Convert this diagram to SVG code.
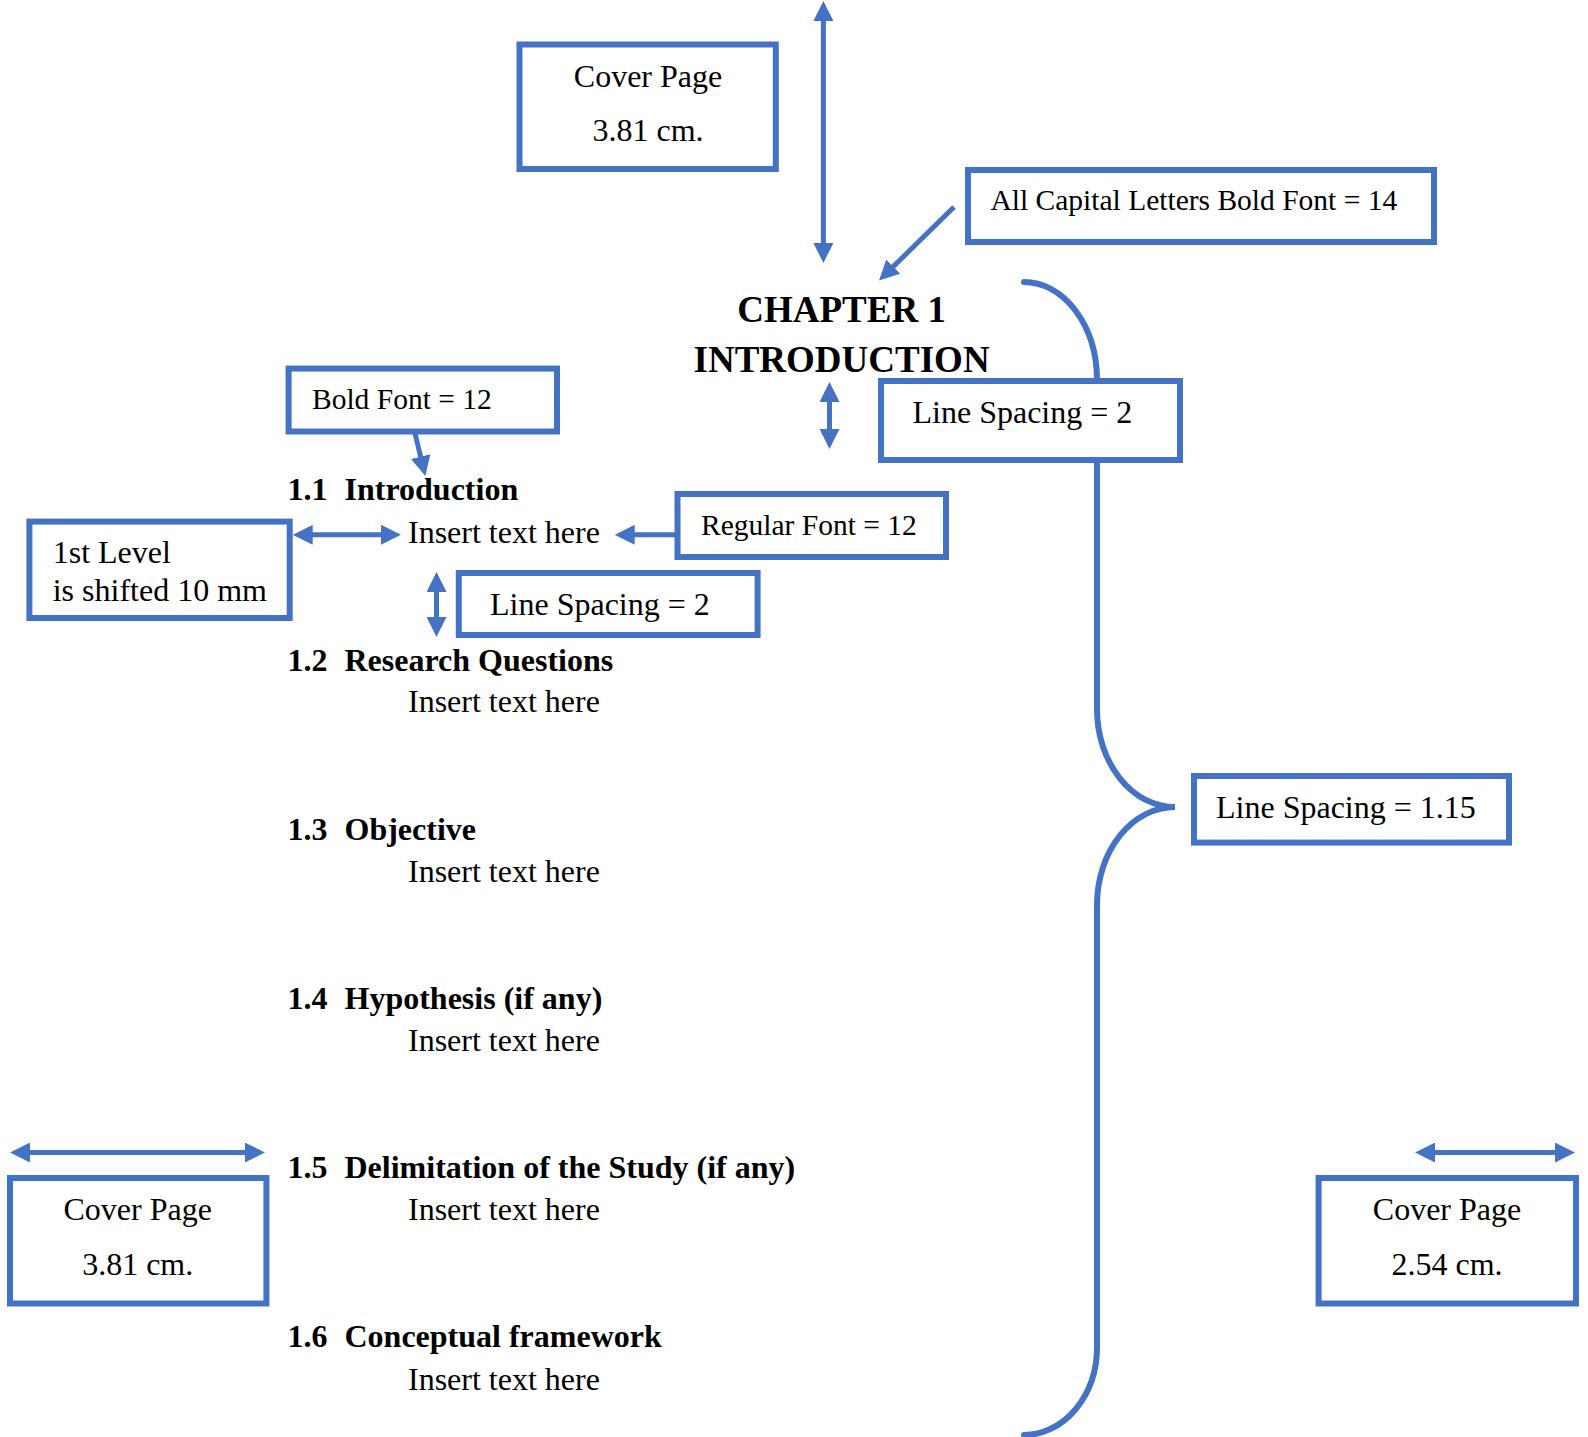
<svg xmlns="http://www.w3.org/2000/svg" width="1588" height="1437" viewBox="0 0 1588 1437">
<style>
.box{fill:#fff;stroke:#4472C4;stroke-width:6}
.ln{fill:none;stroke:#4472C4;stroke-width:5}
.br{fill:none;stroke:#4472C4;stroke-width:6;stroke-linecap:round}
text{font-family:"Liberation Serif","Times New Roman",serif;fill:#000}
.t32{font-size:32px}
.t29{font-size:29.5px}
.h{font-size:32px;font-weight:bold}
.ch{font-size:37px;font-weight:bold}
.c{text-anchor:middle}
</style>
<defs>
<marker id="ah" viewBox="0 0 10 10" refX="1" refY="5" markerWidth="4" markerHeight="4" markerUnits="strokeWidth" orient="auto-start-reverse">
<path d="M0,0 L10,5 L0,10 z" fill="#4472C4"/>
</marker>
</defs>
<rect width="1588" height="1437" fill="#fff"/>
<g id="connectors">
<line class="ln" x1="823.4" y1="19" x2="823.4" y2="245" marker-start="url(#ah)" marker-end="url(#ah)"/>
<line class="ln" x1="954" y1="207" x2="891.9" y2="267.9" marker-end="url(#ah)"/>
<line class="ln" x1="829.5" y1="400" x2="829.5" y2="431" marker-start="url(#ah)" marker-end="url(#ah)"/>
<line class="ln" x1="415" y1="433.5" x2="421.1" y2="458.5" marker-end="url(#ah)"/>
<line class="ln" x1="310.7" y1="534.8" x2="383" y2="534.8" marker-start="url(#ah)" marker-end="url(#ah)"/>
<line class="ln" x1="676" y1="534.8" x2="632.7" y2="534.8" marker-end="url(#ah)"/>
<line class="ln" x1="436.5" y1="590" x2="436.5" y2="619" marker-start="url(#ah)" marker-end="url(#ah)"/>
<line class="ln" x1="28" y1="1152.6" x2="247" y2="1152.6" marker-start="url(#ah)" marker-end="url(#ah)"/>
<line class="ln" x1="1433" y1="1152.6" x2="1557" y2="1152.6" marker-start="url(#ah)" marker-end="url(#ah)"/>
<path id="brace" class="br" d="M1024,282 A73 98 0 0 1 1097,380 L1097,709 A78 98 0 0 0 1175,807 A78 98 0 0 0 1097,905 L1097,1347 A73 88 0 0 1 1024,1435"/>
</g>
<g id="cover-top">
<rect class="box" x="519.5" y="44.5" width="256.3" height="124.5"/>
<text class="t32 c" x="648" y="87">Cover Page</text>
<text class="t32 c" x="648" y="141">3.81 cm.</text>
</g>
<g id="caps-label">
<rect class="box" x="968" y="170" width="466" height="72"/>
<text class="t29" x="990.5" y="210">All Capital Letters Bold Font = 14</text>
</g>
<g id="chapter">
<text class="ch c" x="841.6" y="322">CHAPTER 1</text>
<text class="ch c" x="841.6" y="372">INTRODUCTION</text>
</g>
<g id="ls-top">
<rect class="box" x="881" y="381" width="299" height="79"/>
<text class="t32" x="912.5" y="423">Line Spacing = 2</text>
</g>
<g id="bold-label">
<rect class="box" x="288.6" y="368.6" width="268.4" height="62.9"/>
<text class="t29" x="312" y="409">Bold Font = 12</text>
</g>
<g id="first-level">
<rect class="box" x="29.4" y="521.6" width="260.3" height="96.4"/>
<text class="t32" x="52.7" y="563">1st Level</text>
<text class="t32" x="52.7" y="600.6">is shifted 10 mm</text>
</g>
<g id="regular-label">
<rect class="box" x="677.5" y="494" width="268.5" height="63"/>
<text class="t29" x="701" y="535">Regular Font = 12</text>
</g>
<g id="ls-mid">
<rect class="box" x="458.8" y="573" width="298.8" height="62"/>
<text class="t32" x="490" y="615">Line Spacing = 2</text>
</g>
<g id="ls-115">
<rect class="box" x="1194" y="776" width="315" height="66.6"/>
<text class="t32" x="1216" y="818">Line Spacing = 1.15</text>
</g>
<g id="sec-1-1">
<text class="h" x="287.6" y="500">1.1</text>
<text class="h" x="344.5" y="500">Introduction</text>
<text class="t32" x="408" y="543">Insert text here</text>
</g>
<g id="sec-1-2">
<text class="h" x="287.6" y="670.5">1.2</text>
<text class="h" x="344.5" y="670.5">Research Questions</text>
<text class="t32" x="408" y="712">Insert text here</text>
</g>
<g id="sec-1-3">
<text class="h" x="287.6" y="839.6">1.3</text>
<text class="h" x="344.5" y="839.6">Objective</text>
<text class="t32" x="408" y="882">Insert text here</text>
</g>
<g id="sec-1-4">
<text class="h" x="287.6" y="1009">1.4</text>
<text class="h" x="344.5" y="1009">Hypothesis (if any)</text>
<text class="t32" x="408" y="1051">Insert text here</text>
</g>
<g id="sec-1-5">
<text class="h" x="287.6" y="1178">1.5</text>
<text class="h" x="344.5" y="1178">Delimitation of the Study (if any)</text>
<text class="t32" x="408" y="1220">Insert text here</text>
</g>
<g id="sec-1-6">
<text class="h" x="287.6" y="1347">1.6</text>
<text class="h" x="344.5" y="1347">Conceptual framework</text>
<text class="t32" x="408" y="1390">Insert text here</text>
</g>
<g id="cover-left">
<rect class="box" x="10" y="1178" width="256.4" height="125.5"/>
<text class="t32 c" x="137.7" y="1220.4">Cover Page</text>
<text class="t32 c" x="137.7" y="1275">3.81 cm.</text>
</g>
<g id="cover-right">
<rect class="box" x="1318.6" y="1178" width="257.4" height="125.5"/>
<text class="t32 c" x="1447" y="1220.4">Cover Page</text>
<text class="t32 c" x="1447" y="1275">2.54 cm.</text>
</g>
</svg>
